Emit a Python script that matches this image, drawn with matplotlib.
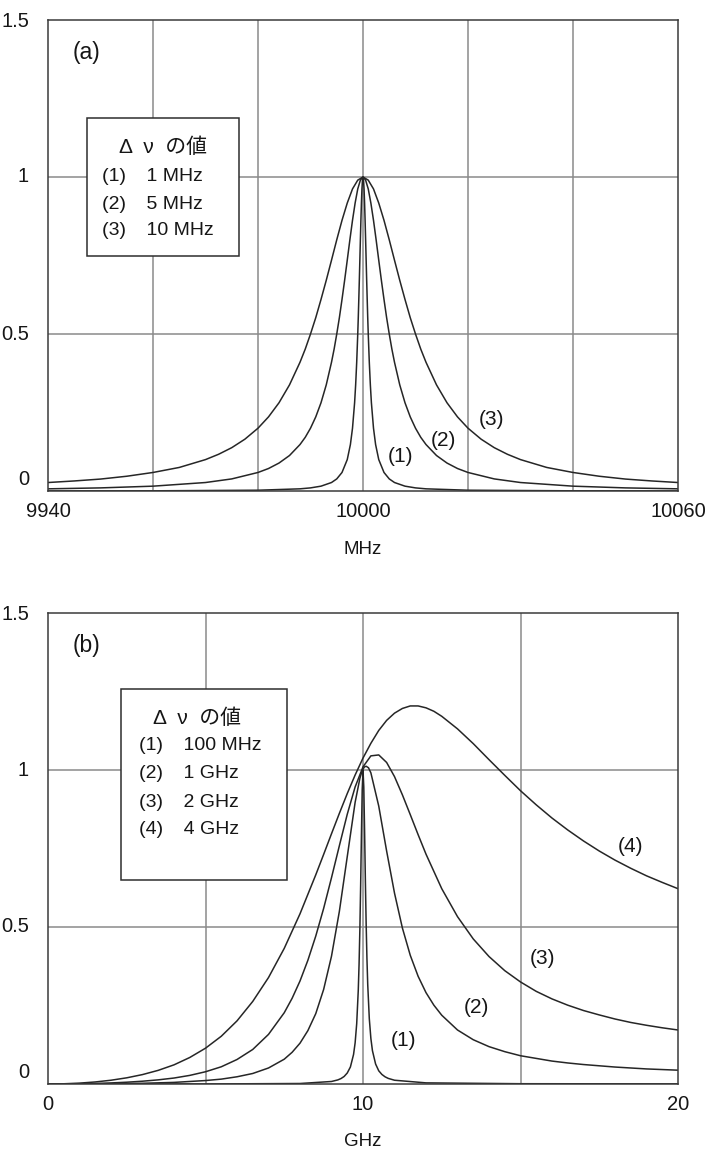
import matplotlib
matplotlib.use("Agg")
import matplotlib.pyplot as plt
from matplotlib.patches import Rectangle

plt.rcParams['font.family'] = ['Liberation Sans', 'Noto Sans CJK JP', 'DejaVu Sans']

# (a) MHz scale
xa1 = [9940, 9960, 9980, 9988, 9990, 9992, 9994, 9995, 9996, 9997, 9997.6, 9998, 9998.4, 9998.6, 9998.8,
       9999, 9999.1, 9999.2, 9999.3, 9999.4, 9999.5, 9999.6, 9999.7, 9999.8, 9999.9, 10000,
       10000.1, 10000.2, 10000.3, 10000.4, 10000.5, 10000.6, 10000.7, 10000.8, 10000.9, 10001,
       10001.2, 10001.4, 10001.6, 10002, 10002.4, 10003, 10004, 10005, 10006, 10008, 10010, 10012,
       10020, 10040, 10060]
ya1 = [0.0003, 0.0006, 0.0025, 0.0069, 0.0099, 0.0154, 0.027, 0.0385, 0.059, 0.100, 0.148, 0.200, 0.281,
       0.338, 0.410, 0.500, 0.552, 0.610, 0.671, 0.735, 0.800, 0.862, 0.917, 0.962, 0.990, 1.000,
       0.990, 0.962, 0.917, 0.862, 0.800, 0.735, 0.671, 0.610, 0.552, 0.500,
       0.410, 0.338, 0.281, 0.200, 0.148, 0.100, 0.059, 0.0385, 0.027, 0.0154, 0.0099, 0.0069,
       0.0025, 0.0006, 0.0003]

xa2 = [9940, 9950, 9960, 9970, 9975, 9980, 9982, 9984, 9986, 9988, 9989, 9990, 9991, 9992, 9993, 9994,
       9994.5, 9995, 9995.5, 9996, 9996.5, 9997, 9997.5, 9998, 9998.5, 9999, 9999.5, 10000,
       10000.5, 10001, 10001.5, 10002, 10002.5, 10003, 10003.5, 10004, 10004.5, 10005, 10005.5, 10006,
       10007, 10008, 10009, 10010, 10011, 10012, 10014, 10016, 10018, 10020, 10025, 10030, 10040, 10050,
       10060]
ya2 = [0.0069, 0.0099, 0.0154, 0.027, 0.0385, 0.059, 0.0716, 0.089, 0.113, 0.148, 0.171, 0.200, 0.236,
       0.281, 0.338, 0.410, 0.452, 0.500, 0.552, 0.610, 0.671, 0.735, 0.800, 0.862, 0.917, 0.962, 0.990,
       1.000, 0.990, 0.962, 0.917, 0.862, 0.800, 0.735, 0.671, 0.610, 0.552, 0.500, 0.452, 0.410,
       0.338, 0.281, 0.236, 0.200, 0.171, 0.148, 0.113, 0.089, 0.0716, 0.059, 0.0385, 0.027, 0.0154, 0.0099,
       0.0069]

xa3 = [9940, 9945, 9950, 9955, 9960, 9965, 9970, 9972.5, 9975, 9977.5, 9980, 9982, 9984, 9986, 9988,
       9989, 9990, 9991, 9992, 9993, 9994, 9995, 9996, 9997, 9998, 9999, 10000,
       10001, 10002, 10003, 10004, 10005, 10006, 10007, 10008, 10009, 10010, 10011, 10012, 10014, 10016,
       10018, 10020, 10022.5, 10025, 10027.5, 10030, 10035, 10040, 10045, 10050, 10055, 10060]
ya3 = [0.027, 0.032, 0.038, 0.047, 0.059, 0.075, 0.100, 0.117, 0.138, 0.165, 0.200, 0.236, 0.281, 0.338,
       0.410, 0.452, 0.500, 0.552, 0.610, 0.671, 0.735, 0.800, 0.862, 0.917, 0.962, 0.990, 1.000,
       0.990, 0.962, 0.917, 0.862, 0.800, 0.735, 0.671, 0.610, 0.552, 0.500, 0.452, 0.410, 0.338, 0.281,
       0.236, 0.200, 0.165, 0.138, 0.117, 0.100, 0.075, 0.059, 0.047, 0.038, 0.032, 0.027]

# (b) GHz scale
xb1 = [0, 5, 8, 9, 9.2, 9.3, 9.4, 9.5, 9.6, 9.7, 9.75, 9.8, 9.85, 9.875, 9.9, 9.925, 9.95, 9.975, 10,
       10.025, 10.05, 10.075, 10.1, 10.125, 10.15, 10.2, 10.25, 10.3, 10.4, 10.5, 10.6, 10.7, 10.8, 11,
       12, 15, 20]
yb1 = [0, 0.0001, 0.0016, 0.008, 0.013, 0.0173, 0.0239, 0.035, 0.0542, 0.094, 0.131, 0.192, 0.299, 0.381,
       0.490, 0.631, 0.792, 0.937, 1.000, 0.946, 0.808, 0.650, 0.510, 0.400, 0.317, 0.208, 0.145, 0.106,
       0.0636, 0.042, 0.0304, 0.0229, 0.0179, 0.012, 0.0036, 0.0009, 0.0004]

xb2 = [0, 1, 2, 3, 4, 5, 5.5, 6, 6.5, 7, 7.5, 7.75, 8, 8.25, 8.5, 8.75, 9, 9.25, 9.5, 9.75, 9.9, 9.95, 10,
       10.05, 10.1, 10.175, 10.25, 10.5, 10.75, 11, 11.25, 11.5, 11.75, 12, 12.25, 12.5, 13, 13.5, 14,
       14.5, 15, 16, 16.5, 17, 18, 19, 20]
yb2 = [0, 0.0002, 0.0009, 0.0023, 0.0051, 0.011, 0.0155, 0.023, 0.0335, 0.051, 0.079, 0.101, 0.130, 0.170,
       0.224, 0.301, 0.407, 0.550, 0.724, 0.897, 0.973, 0.990, 1.003, 1.010, 1.012, 1.007, 0.991, 0.885,
       0.742, 0.608, 0.497, 0.410, 0.343, 0.291, 0.251, 0.219, 0.172, 0.141, 0.119, 0.103, 0.090, 0.073,
       0.067, 0.062, 0.054, 0.048, 0.044]

xb3 = [0, 1, 1.5, 2, 2.5, 3, 3.5, 4, 4.5, 5, 5.5, 6, 6.5, 7, 7.5, 7.75, 8, 8.25, 8.5, 8.75, 9, 9.25, 9.5,
       9.75, 10, 10.25, 10.5, 10.75, 11, 11.25, 11.5, 11.75, 12, 12.5, 13, 13.5, 14, 14.5, 15, 15.5, 16,
       16.5, 17, 17.5, 18, 18.5, 19, 19.5, 20]
yb3 = [0, 0.0008, 0.0018, 0.0034, 0.0057, 0.0089, 0.0132, 0.019, 0.0274, 0.039, 0.0548, 0.078, 0.110,
       0.158, 0.227, 0.273, 0.328, 0.394, 0.471, 0.559, 0.657, 0.759, 0.859, 0.946, 1.010, 1.045, 1.048,
       1.024, 0.979, 0.921, 0.858, 0.794, 0.732, 0.622, 0.533, 0.462, 0.406, 0.361, 0.325, 0.295, 0.271,
       0.251, 0.234, 0.220, 0.207, 0.196, 0.187, 0.179, 0.172]

xb4 = [0, 0.5, 1, 1.5, 2, 2.5, 3, 3.5, 4, 4.5, 5, 5.5, 6, 6.5, 7, 7.5, 8, 8.5, 8.75, 9, 9.25, 9.5, 9.75,
       10, 10.25, 10.5, 10.75, 11, 11.25, 11.5, 11.75, 12, 12.25, 12.5, 13, 13.5, 14, 14.5, 15, 15.5, 16,
       16.5, 17, 17.5, 18, 18.5, 19, 19.5, 20]
yb4 = [0, 0.0007, 0.0028, 0.0065, 0.012, 0.0197, 0.030, 0.0435, 0.061, 0.0844, 0.114, 0.152, 0.201,
       0.263, 0.339, 0.432, 0.542, 0.666, 0.731, 0.797, 0.862, 0.925, 0.984, 1.038, 1.085, 1.126, 1.158,
       1.181, 1.196, 1.204, 1.204, 1.198, 1.187, 1.171, 1.131, 1.084, 1.033, 0.983, 0.934, 0.889, 0.847,
       0.809, 0.774, 0.742, 0.713, 0.687, 0.663, 0.642, 0.622]

ytick_vals = [0, 0.5, 1, 1.5]
ytick_text = ['0', '0.5', '1', '1.5']

legend_title = 'Δ  ν  の値'
legend_a = ['(1) \u2002 1 MHz', '(2) \u2002 5 MHz', '(3) \u2002 10 MHz']
legend_b = ['(1) \u2002 100 MHz', '(2) \u2002 1 GHz', '(3) \u2002 2 GHz', '(4) \u2002 4 GHz']
curve_tags_a = ['(1)', '(2)', '(3)']
curve_tag_pos_a = [(10007.2, 0.111), (10015.3, 0.162), (10024.5, 0.229)]
curve_tags_b = ['(1)', '(2)', '(3)', '(4)']
curve_tag_pos_b = [(11.29, 0.14), (13.6, 0.245), (15.7, 0.401), (18.48, 0.755)]

GRID = '#8a8a8a'
INK = '#262626'
TXT = '#161616'
W, H = 708, 1152

fig = plt.figure(figsize=(W / 100, H / 100), dpi=100)
ax_a = fig.add_axes([48 / W, 1 - 491 / H, 630 / W, 471 / H])
ax_b = fig.add_axes([48 / W, 1 - 1084 / H, 630 / W, 471 / H])


def frame(ax, xlim, xgrid, xticks, xlabel):
    ax.set_xlim(*xlim)
    ax.set_ylim(0, 1.5)
    for x in xgrid:
        ax.axvline(x, color=GRID, lw=1.1, zorder=1)
    for y in [0.5, 1.0]:
        ax.axhline(y, color=GRID, lw=1.1, zorder=1)
    ax.set_xticks(xticks)
    ax.set_xticklabels([str(t) for t in xticks])
    ax.set_yticks([])
    ax.tick_params(axis='x', length=0, labelsize=14.5, pad=8, colors=TXT)
    for s in ax.spines.values():
        s.set_color('#3a3a3a')
        s.set_linewidth(1.1)
        s.set_zorder(5)
    yt = ax.get_yaxis_transform()
    for v, t in zip(ytick_vals, ytick_text):
        dy = 0.036 if v == 0 else (-0.006 if v == 1.5 else 0)
        ax.text(-0.03, v + dy, t, transform=yt, ha='right', va='center', fontsize=14.5, color=TXT)
    ax.text(0.5, -58 / 471, xlabel, transform=ax.transAxes, ha='center', va='center',
            fontsize=13.5, color=TXT)


def legend_box(ax, x0, y0, x1, y1, title_xy, lines, left, ys):
    ax.add_patch(Rectangle((x0, y0), x1 - x0, y1 - y0, transform=ax.transAxes, facecolor='white',
                           edgecolor='#2e2e2e', lw=1.1, zorder=6))
    ax.text(title_xy[0], title_xy[1], legend_title, transform=ax.transAxes, ha='center', va='center',
            fontsize=15, color=TXT, zorder=7)
    for t, y in zip(lines, ys):
        ax.text(left, y, t, transform=ax.transAxes, ha='left', va='center', fontsize=14,
                color=TXT, zorder=7)


# panel (a)
frame(ax_a, (9940, 10060), [9960, 9980, 10000, 10020, 10040], [9940, 10000, 10060], 'MHz')
for xs, ys in [(xa1, ya1), (xa2, ya2), (xa3, ya3)]:
    ax_a.plot(xs, ys, color=INK, lw=1.1, zorder=3, solid_joinstyle='round')
ax_a.text(0.039, 0.930, '(a)', transform=ax_a.transAxes, ha='left', va='center', fontsize=16.5, color=TXT)
legend_box(ax_a, 0.0619, 0.499, 0.3032, 0.792, (0.1825, 0.730), legend_a, 0.086,
           [0.667, 0.609, 0.554])
for t, (x, y) in zip(curve_tags_a, curve_tag_pos_a):
    ax_a.text(x, y, t, ha='center', va='center', fontsize=15, color=TXT, zorder=4)

# panel (b)
frame(ax_b, (0, 20), [5, 10, 15], [0, 10, 20], 'GHz')
for xs, ys in [(xb1, yb1), (xb2, yb2), (xb3, yb3), (xb4, yb4)]:
    ax_b.plot(xs, ys, color=INK, lw=1.1, zorder=3, solid_joinstyle='round')
ax_b.text(0.039, 0.932, '(b)', transform=ax_b.transAxes, ha='left', va='center', fontsize=16.5, color=TXT)
legend_box(ax_b, 0.1159, 0.433, 0.379, 0.8386, (0.2365, 0.777), legend_b, 0.144,
           [0.7197, 0.660, 0.5987, 0.5414])
for t, (x, y) in zip(curve_tags_b, curve_tag_pos_b):
    ax_b.text(x, y, t, ha='center', va='center', fontsize=15, color=TXT, zorder=4)

fig.savefig('out.png', dpi=100)
